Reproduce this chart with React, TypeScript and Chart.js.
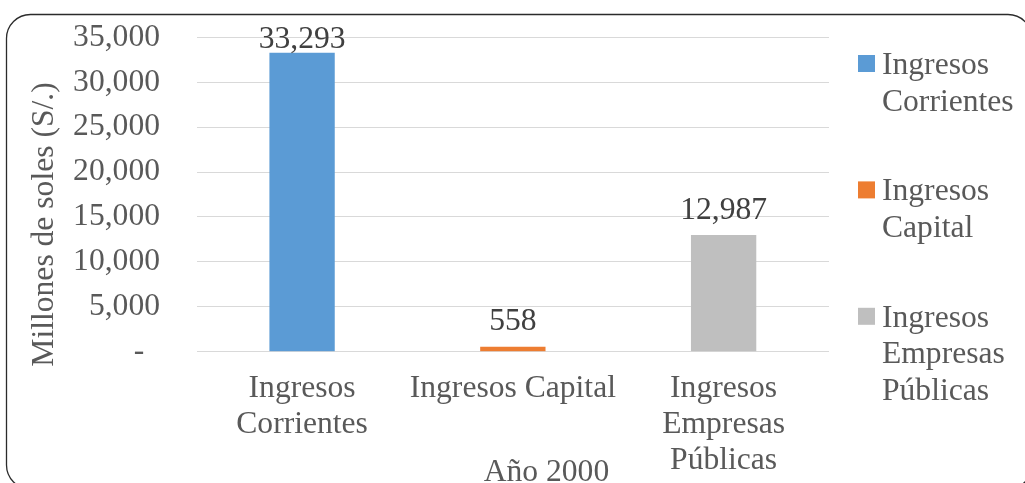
import React, { useEffect, useRef } from 'react';
import { Chart, registerables } from 'chart.js';

Chart.register(...registerables);

// ---- data ----
const categories: string[][] = [
  ['Ingresos', 'Corrientes'],
  ['Ingresos Capital'],
  ['Ingresos', 'Empresas', 'Públicas'],
];
const legendLabels: string[][] = [
  ['Ingresos', 'Corrientes'],
  ['Ingresos', 'Capital'],
  ['Ingresos', 'Empresas', 'Públicas'],
];
const values: number[] = [33293, 558, 12987];
const barColors: string[] = ['#5B9BD5', '#ED7D31', '#BFBFBF'];
const yMin = 0;
const yMax = 35000;
const yStep = 5000;
const yAxisTitle = 'Millones de soles (S/.)';
const xAxisTitle = 'Año 2000';

const FONT_FAMILY = '"Liberation Serif", "Times New Roman", Times, serif';
const FONT_SIZE = 31.6;
const TEXT_COLOR = '#595959';
const LABEL_COLOR = '#404040';

const fmt = (v: number) => (v === 0 ? '-  ' : v.toLocaleString('en-US'));

const decorPlugin = {
  id: 'decor',
  beforeDraw(chart: any) {
    const ctx = chart.ctx;
    ctx.save();
    ctx.fillStyle = '#ffffff';
    ctx.fillRect(0, 0, chart.width, chart.height);
    ctx.beginPath();
    ctx.roundRect(6.5, 14.5, 1032 - 6.5, 489 - 14.5, 24);
    ctx.strokeStyle = '#2b2b2b';
    ctx.lineWidth = 1.3;
    ctx.stroke();
    ctx.restore();
  },
  afterDraw(chart: any) {
    const ctx = chart.ctx;
    const area = chart.chartArea;
    ctx.save();
    ctx.font = `${FONT_SIZE}px ${FONT_FAMILY}`;

    // data labels
    const meta = chart.getDatasetMeta(0);
    ctx.fillStyle = LABEL_COLOR;
    ctx.textAlign = 'center';
    ctx.textBaseline = 'alphabetic';
    meta.data.forEach((bar: any, i: number) => {
      const y = Math.max(bar.y - 16.5, area.top + 11);
      ctx.fillText(fmt(values[i]), bar.x, y);
    });

    // legend
    ctx.textAlign = 'left';
    const lineH = 36.5;
    legendLabels.forEach((lines, i) => {
      const base = area.top + 36.7 + i * 126.4;
      ctx.fillStyle = barColors[i];
      ctx.fillRect(area.right + 29, base - 19, 17, 17);
      ctx.fillStyle = TEXT_COLOR;
      lines.forEach((t, j) => ctx.fillText(t, area.right + 53, base + j * lineH));
    });

    // x title
    ctx.textAlign = 'center';
    ctx.fillStyle = TEXT_COLOR;
    ctx.fillText(xAxisTitle, (area.left + area.right) / 2 + 33.6, 481);

    // y title
    ctx.translate(52.7, 224.5);
    ctx.rotate(-Math.PI / 2);
    ctx.fillText(yAxisTitle, 0, 0);
    ctx.restore();
  },
};

export default function App() {
  const ref = useRef<HTMLCanvasElement>(null);
  useEffect(() => {
    if (!ref.current) return;
    const chart = new Chart(ref.current, {
      type: 'bar',
      data: {
        labels: categories,
        datasets: [
          {
            data: values,
            backgroundColor: barColors,
            categoryPercentage: 1,
            barPercentage: 0.31,
          },
        ],
      },
      options: {
        animation: false,
        responsive: false,
        devicePixelRatio: 1,
        layout: { padding: { left: 0, right: 196, top: 37.3, bottom: 0 } },
        plugins: { legend: { display: false }, tooltip: { enabled: false } },
        scales: {
          x: {
            grid: { display: false, drawTicks: false },
            border: { display: false },
            ticks: {
              color: TEXT_COLOR,
              font: { family: FONT_FAMILY, size: FONT_SIZE, lineHeight: 36.2 / FONT_SIZE },
              padding: 18.6,
              maxRotation: 0,
              autoSkip: false,
            },
            afterFit: (s: any) => {
              s.height = 483 - 351.7;
              s.paddingLeft = 0;
              s.paddingRight = 0;
            },
          },
          y: {
            min: yMin,
            max: yMax,
            grid: { color: '#D9D9D9', lineWidth: 1, drawTicks: false },
            border: { display: false },
            ticks: {
              stepSize: yStep,
              color: TEXT_COLOR,
              font: { family: FONT_FAMILY, size: FONT_SIZE },
              padding: 36.7,
              callback: (v: any) => fmt(Number(v)),
            },
            afterFit: (s: any) => {
              s.width = 196.7;
              s.paddingTop = 0;
              s.paddingBottom = 0;
            },
          },
        },
      },
      plugins: [decorPlugin],
    });
    return () => chart.destroy();
  }, []);
  return (
    <div style={{ position: 'absolute', left: 0, top: 0, width: 1025, height: 483, overflow: 'hidden' }}>
      <canvas ref={ref} width={1025} height={483} style={{ display: 'block' }} />
    </div>
  );
}
